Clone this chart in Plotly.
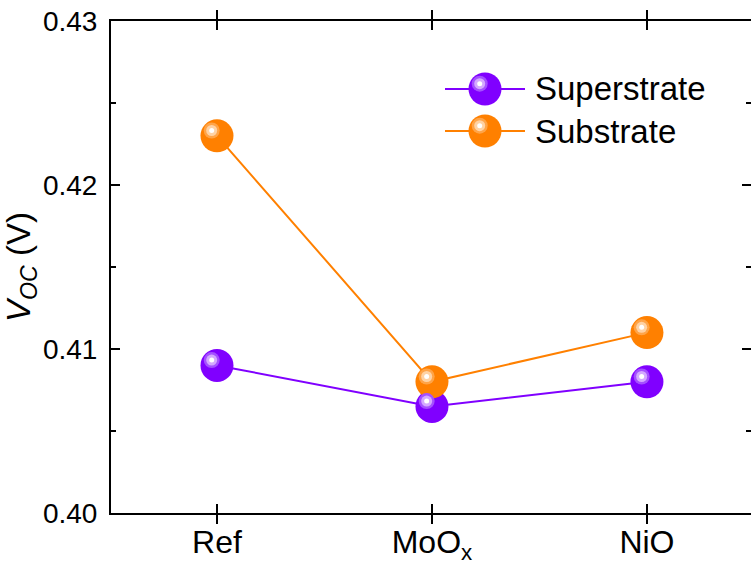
import plotly.graph_objects as go

categories = ["Ref", "MoO<sub>x</sub>", "NiO"]
cat_pos = [0, 1, 2]
superstrate = [0.4090, 0.4065, 0.4080]
substrate = [0.4230, 0.4080, 0.4110]

PURPLE = "#8000FF"
ORANGE = "#FF8000"
PURPLE_HI1 = "#A450FF"
PURPLE_HI2 = "#D4A8FF"
ORANGE_HI1 = "#FFA448"
ORANGE_HI2 = "#FFD2A4"

W, H = 751, 566
ML, MR, MT, MB = 111, 0, 21, 53
PW, PH = W - ML - MR, H - MT - MB

XR = [-0.493, 2.484]
YR = [0.40, 0.43]
xs = (XR[1] - XR[0]) / PW
ys = (YR[1] - YR[0]) / PH
dx, dy = 5.3 * xs, 5.3 * ys  # highlight offset (px -> data)

fig = go.Figure()
FONT = "Arial, Liberation Sans, sans-serif"

for vals, col in [(superstrate, PURPLE), (substrate, ORANGE)]:
    fig.add_trace(go.Scatter(x=cat_pos, y=vals, mode="lines",
                             line=dict(color=col, width=2), showlegend=False,
                             hoverinfo="skip"))
for vals, col in [(superstrate, PURPLE), (substrate, ORANGE)]:
    fig.add_trace(go.Scatter(x=cat_pos, y=vals, mode="markers",
                             marker=dict(size=33, color=col, line=dict(width=0)),
                             showlegend=False))
for vals, h1, h2 in [(superstrate, PURPLE_HI1, PURPLE_HI2), (substrate, ORANGE_HI1, ORANGE_HI2)]:
    for sz, c in [(16, h1), (11, h2), (5, "white")]:
        fig.add_trace(go.Scatter(x=cat_pos, y=vals, mode="markers", xaxis="x2", yaxis="y2",
                                 marker=dict(size=sz, color=c, line=dict(width=0)),
                                 showlegend=False, hoverinfo="skip"))

# custom legend
def px2paper(px, py):
    return (px - ML) / PW, 1 - (py - MT) / PH

def circ(xc, yc, ox, oy, r, color):
    return dict(type="circle", xref="paper", yref="paper", xsizemode="pixel",
                ysizemode="pixel", xanchor=xc, yanchor=yc, x0=ox - r, x1=ox + r,
                y0=oy - r, y1=oy + r, fillcolor=color, line=dict(width=0))

legend_items = [("Superstrate", PURPLE, PURPLE_HI1, PURPLE_HI2, 89),
                ("Substrate", ORANGE, ORANGE_HI1, ORANGE_HI2, 131)]
shapes, annotations = [], []
for name, col, h1, h2, py in legend_items:
    x0, yy = px2paper(445, py)
    x1, _ = px2paper(525, py)
    xc, _ = px2paper(485, py)
    shapes.append(dict(type="line", xref="paper", yref="paper", x0=x0, x1=x1, y0=yy, y1=yy,
                       line=dict(color=col, width=2)))
    shapes.append(circ(xc, yy, 0, 0, 16.5, col))
    shapes.append(circ(xc, yy, -5.3, 5.3, 8, h1))
    shapes.append(circ(xc, yy, -5.3, 5.3, 5.5, h2))
    shapes.append(circ(xc, yy, -5.3, 5.3, 2.5, "white"))
    tx, _ = px2paper(533, py)
    annotations.append(dict(text=name, xref="paper", yref="paper", x=tx, y=yy,
                            xanchor="left", yanchor="middle", showarrow=False,
                            font=dict(size=33, color="black", family=FONT)))

axis_common = dict(showline=True, linecolor="black", linewidth=2,
                   ticks="inside", tickcolor="black", tickwidth=2, ticklen=9,
                   showgrid=False, zeroline=False)

fig.update_layout(
    width=W, height=H,
    margin=dict(l=ML, r=MR, t=MT, b=MB, pad=0),
    paper_bgcolor="white", plot_bgcolor="white",
    font=dict(family=FONT, color="black"),
    showlegend=False,
    xaxis=dict(range=XR, tickvals=cat_pos, ticktext=categories, mirror="allticks",
               tickfont=dict(size=32), **axis_common),
    yaxis=dict(range=YR, tickvals=[0.40, 0.41, 0.42, 0.43],
               ticktext=["0.40", "0.41", "0.42", "0.43"], tickfont=dict(size=28),
               ticklabelstandoff=6, mirror=False,
               minor=dict(dtick=0.005, ticks="inside", ticklen=5, tickwidth=2,
                          tickcolor="black", showgrid=False),
               title=dict(text="<i>V</i><sub><i>OC</i></sub> (V)", font=dict(size=33),
                          standoff=4),
               **axis_common),
    yaxis3=dict(range=YR, overlaying="y", side="right", showline=False,
                tickvals=[0.40, 0.41, 0.42, 0.43], showticklabels=False,
                ticks="inside", tickcolor="black", tickwidth=2, ticklen=9,
                minor=dict(dtick=0.005, ticks="inside", ticklen=5, tickwidth=2,
                           tickcolor="black", showgrid=False),
                showgrid=False, zeroline=False),
    xaxis2=dict(range=[XR[0] + dx, XR[1] + dx], overlaying="x", visible=False),
    yaxis2=dict(range=[YR[0] - dy, YR[1] - dy], overlaying="y", visible=False),
    shapes=shapes, annotations=annotations,
)
# anchor an invisible trace to yaxis3 so its ticks render
fig.add_trace(go.Scatter(x=[cat_pos[0]], y=[superstrate[0]], yaxis="y3", mode="markers",
                         marker=dict(opacity=0), showlegend=False, hoverinfo="skip"))

fig.write_html("out.html")
